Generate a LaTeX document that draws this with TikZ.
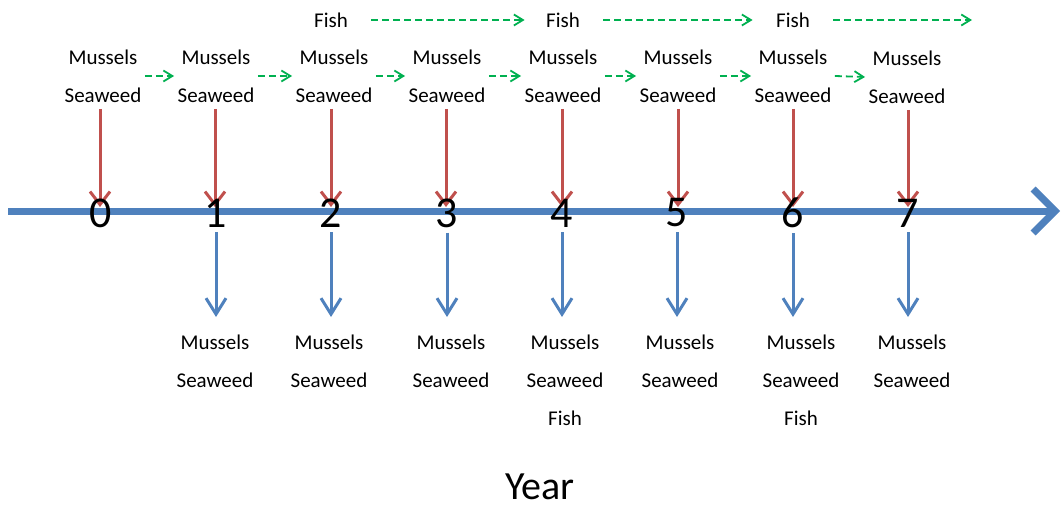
\documentclass[tikz,border=0pt]{standalone}
\usepackage{fontspec}
\setmainfont{Carlito}
\usetikzlibrary{arrows.meta,positioning}
\definecolor{axisblue}{RGB}{79,129,189}
\definecolor{inred}{RGB}{192,80,77}
\definecolor{carrygreen}{RGB}{0,176,80}

\begin{document}
\begin{tikzpicture}[x=1pt,y=-1pt, every node/.style={font=\fontsize{21}{38}\selectfont,align=center},
        year/.style={font=\fontsize{44}{44}\selectfont,inner sep=0pt},
        timeline/.style={draw=axisblue,line width=7pt,-{Straight Barb[length=22pt,width=44pt]}},
        inflow/.style={color=inred,line width=3pt,-{Straight Barb[length=13pt,width=20pt]}},
        outflow/.style={color=axisblue,line width=3pt,-{Straight Barb[length=16pt,width=20pt]}},
        carry/.style={color=carrygreen,line width=1.8pt,dash pattern=on 7pt off 4pt,-{Straight Barb[length=9pt,width=11pt]}}]
        \useasboundingbox (0,0) rectangle (1063,508);
        % time axis
        \coordinate (axstart) at (8,211);
        \coordinate (axend)   at (1060,211);
        \draw[timeline] (axstart) -- (axend);

        % what goes in
        \node (top0) at (103,76)  {Mussels\\Seaweed};
        \node (top1) at (216,76)  {Mussels\\Seaweed};
        \node (top2) at (334,76)  {Mussels\\Seaweed};
        \node (top3) at (447,76)  {Mussels\\Seaweed};
        \node (top4) at (563,76)  {Mussels\\Seaweed};
        \node (top5) at (678,76)  {Mussels\\Seaweed};
        \node (top6) at (793,76)  {Mussels\\Seaweed};
        \node (top7) at (907,77)  {Mussels\\Seaweed};
        \node (fish2) at (331,20) {Fish};
        \node (fish4) at (563,20) {Fish};
        \node (fish6) at (793,20) {Fish};
        \coordinate (fishend) at (972,20);

        % years
        \path[inflow,shorten <=3pt,shorten >=6pt]
                      (top0.south -| 100,0) edge (100,213)
                      (top1.south -| 215,0) edge (215,213)
                      (top2.south -| 331,0) edge (331,213)
                      (top3.south -| 446,0) edge (446,213)
                      (top4.south -| 562,0) edge (562,213)
                      (top5.south -| 678,0) edge (678,213)
                      (top6.south -| 793,0) edge (793,213)
                      (top7.south -| 908,0) edge (908,213);
        \node[year] (d0) at (101,213) {0};
        \node[year] (d1) at (216,213) {1};
        \node[year] (d2) at (331,213) {2};
        \node[year] (d3) at (447,213) {3};
        \node[year] (d4) at (562,213) {4};
        \node[year] (d5) at (677,213) {5};
        \node[year] (d6) at (793,213) {6};
        \node[year] (d7) at (908,213) {7};

        % what comes out
        \node[anchor=north] (bot1) at (215,331) {Mussels\\Seaweed};
        \node[anchor=north] (bot2) at (329,331) {Mussels\\Seaweed};
        \node[anchor=north] (bot3) at (451,331) {Mussels\\Seaweed};
        \node[anchor=north] (bot4) at (565,331) {Mussels\\Seaweed\\Fish};
        \node[anchor=north] (bot5) at (680,331) {Mussels\\Seaweed};
        \node[anchor=north] (bot6) at (801,331) {Mussels\\Seaweed\\Fish};
        \node[anchor=north] (bot7) at (912,331) {Mussels\\Seaweed};

        \path[outflow,shorten <=5pt,shorten >=14pt]
                       (d1.south) edge (d1.south |- bot1.north)
                       (d2.south) edge (d2.south |- bot2.north)
                       (d3.south) edge (d3.south |- bot3.north)
                       (d4.south) edge (d4.south |- bot4.north)
                       (d5.south) edge (d5.south |- bot5.north)
                       (d6.south) edge (d6.south |- bot6.north)
                       (d7.south) edge (d7.south |- bot7.north);

        % carried over
        \path[carry] (top0.east) edge (top1.west)
                     (top1.east) edge (top2.west)
                     (top2.east) edge (top3.west)
                     (top3.east) edge (top4.west)
                     (top4.east) edge (top5.west)
                     (top5.east) edge (top6.west)
                     (top6.east) edge (top7.west)
                     (fish2) edge[shorten <=20pt,shorten >=18pt] (fish4)
                     (fish4) edge[shorten <=20pt,shorten >=20pt] (fish6)
                     (fish6) edge[shorten <=20pt] (fishend);

        \node[font=\fontsize{40}{40}\selectfont,inner sep=0pt] (yr) at (540,487) {Year};
\end{tikzpicture}
\end{document}
